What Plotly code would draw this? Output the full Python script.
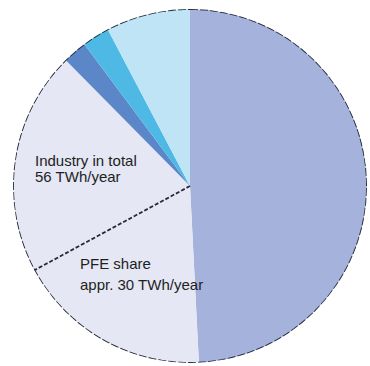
import numpy as np
import plotly.graph_objects as go

# Shares (percent), clockwise from 12 o'clock
categories = ["Other consumption", "PFE share", "Industry (rest)", "Segment A", "Segment B", "Segment C"]
shares = [49.2, 17.9, 20.5, 2.2, 2.5, 7.7]
colors = ["#a5b2dc", "#e5e7f4", "#e5e7f4", "#5b86c8", "#4fb9e6", "#bfe4f6"]

label_industry = ["Industry in total", "56 TWh/year"]
label_pfe = ["PFE share", "appr. 30 TWh/year"]

deg = np.array(shares) / sum(shares) * 360.0
ends = np.cumsum(deg)
starts = ends - deg
centers = starts + deg / 2

fig = go.Figure()
fig.add_trace(go.Barpolar(
    r=[1] * len(shares), theta=centers, width=deg,
    marker=dict(color=colors, line=dict(width=0)),
    hoverinfo="skip", showlegend=False,
))
# dashed boundary between PFE share and rest of industry
b = ends[1]
fig.add_trace(go.Scatterpolar(
    r=[0, 1], theta=[b, b], mode="lines",
    line=dict(color="#262b38", width=1.8, dash="4px,2px"),
    hoverinfo="skip", showlegend=False,
))
# outer outline
circ = np.linspace(0, 360, 361)
fig.add_trace(go.Scatterpolar(
    r=np.ones_like(circ), theta=circ, mode="lines",
    line=dict(color="#262b38", width=1.9, dash="8px,2px"),
    hoverinfo="skip", showlegend=False,
))

W, H = 370, 366
cx, cy, R = 190, 186, 177
fig.update_layout(
    width=W, height=H,
    margin=dict(l=0, r=0, t=0, b=0),
    paper_bgcolor="white",
    showlegend=False,
    polar=dict(
        domain=dict(x=[(cx - R) / W, (cx + R) / W], y=[1 - (cy + R) / H, 1 - (cy - R) / H]),
        bgcolor="white",
        bargap=0,
        radialaxis=dict(visible=False, range=[0, 1]),
        angularaxis=dict(visible=False, rotation=90, direction="clockwise"),
    ),
)

font = dict(family="Liberation Sans Narrow, Arial Narrow, Liberation Sans, sans-serif", size=15, color="#1e1e1e")
for txt, x, y in [(label_industry[0], 33, 161), (label_industry[1], 33, 176),
                  (label_pfe[0], 78, 263), (label_pfe[1], 78, 284)]:
    fig.add_annotation(text=txt, x=x / W, y=1 - y / H, xref="paper", yref="paper",
                       xanchor="left", yanchor="middle", showarrow=False, font=font)

fig.write_html("out.html")
